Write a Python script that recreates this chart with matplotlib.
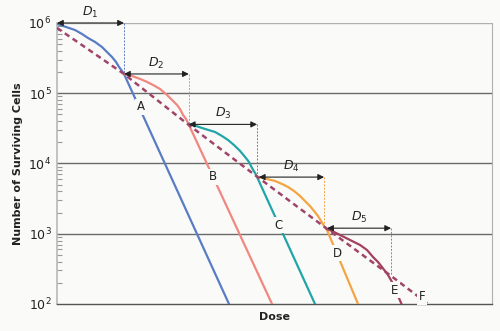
import matplotlib
matplotlib.use("Agg")
import matplotlib.pyplot as plt
from matplotlib.ticker import LogLocator, FixedLocator, NullFormatter

# ---- data (dose in arbitrary units, survival = number of cells) ----
dose_A = [0, 2.07, 4.14, 5.75, 7.13, 8.74, 10.34, 11.49, 12.64, 13.56, 14.25, 14.94, 15.40, 39.54]
surv_A = [9.68e5, 8.77e5, 7.94e5, 6.97e5, 6.11e5, 5.37e5, 4.55e5, 3.86e5, 3.28e5, 2.79e5, 2.37e5, 2.07e5, 1.88e5, 1e2]

dose_B = [15.40, 17.24, 19.08, 20.69, 22.07, 23.68, 25.29, 26.44, 27.59, 28.28, 28.97, 29.66, 30.11, 49.43]
surv_B = [1.88e5, 1.76e5, 1.60e5, 1.45e5, 1.31e5, 1.15e5, 9.44e4, 8.02e4, 6.81e4, 5.97e4, 4.90e4, 4.30e4, 3.78e4, 1e2]

dose_C = [30.34, 31.95, 34.02, 36.32, 37.93, 39.31, 40.69, 42.07, 43.22, 44.14, 44.83, 45.52, 45.98, 59.31]
surv_C = [3.65e4, 3.42e4, 3.10e4, 2.81e4, 2.46e4, 2.16e4, 1.83e4, 1.51e4, 1.24e4, 1.05e4, 8.63e3, 7.33e3, 6.43e3, 1e2]

dose_D = [46.44, 48.28, 50.11, 51.72, 53.10, 54.48, 55.86, 57.01, 58.16, 59.08, 60.00, 60.69, 61.38, 62.07, 69.20]
surv_D = [6.43e3, 6.01e3, 5.64e3, 5.11e3, 4.63e3, 4.06e3, 3.45e3, 2.92e3, 2.48e3, 2.11e3, 1.79e3, 1.52e3, 1.29e3, 1.13e3, 1e2]

dose_E = [62.07, 63.68, 65.06, 67.36, 69.66, 71.26, 72.64, 73.79, 74.71, 75.40, 76.09, 77.01, 79.20]
surv_E = [1.17e3, 1.06e3, 960, 815, 692, 587, 467, 396, 336, 295, 259, 206, 1e2]

dose_F = [0, 15.4, 30.3, 46.4, 62.1, 76.8, 85.3]
surv_F = [8.5e5, 1.88e5, 3.53e4, 6.22e3, 1.17e3, 251, 1e2]

# fractionation intervals D1..D5: (start dose, end dose, survival level)
frac_names = ["1", "2", "3", "4", "5"]
frac_start = [0, 15.4, 30.3, 46.4, 62.1]
frac_end = [15.4, 30.3, 46.0, 61.4, 76.8]
frac_level = [1e6, 1.88e5, 3.6e4, 6.4e3, 1.2e3]
frac_drop = [1.88e5, 3.77e4, 6.4e3, 1.3e3, 259]

curve_labels = ["A", "B", "C", "D", "E", "F"]
label_dose = [19.3, 35.9, 51.0, 64.4, 77.7, 83.9]
label_surv = [6.37e4, 6.43e3, 1.33e3, 5.3e2, 1.58e2, 1.26e2]

col_A = "#5a7cc4"
col_B = "#f08880"
col_C = "#22a5a8"
col_D = "#f5a443"
col_E = "#a3405c"
col_F = "#a0456a"
frac_cols = [col_A, col_B, col_C, col_D, "#888888"]
bg = "#fafbf9"

fig = plt.figure(figsize=(5.0, 3.31), dpi=100, facecolor=bg)
ax = fig.add_axes([0.114, 0.0816, 0.87, 0.849], facecolor=bg)
ax.set_yscale("log")
ax.set_xlim(0, 100)
ax.set_ylim(1e2, 1e6)

# grid lines at decades
for v in [1e5, 1e4, 1e3]:
    ax.axhline(v, color="#6a6a6a", lw=1.0, zorder=1)
ax.axhline(1e6, color="#b0b0b0", lw=1.0, zorder=1)

lw = 1.6
ax.plot(dose_A, surv_A, color=col_A, lw=lw, zorder=3)
ax.plot(dose_B, surv_B, color=col_B, lw=lw, zorder=3)
ax.plot(dose_C, surv_C, color=col_C, lw=lw, zorder=3)
ax.plot(dose_D, surv_D, color=col_D, lw=lw, zorder=3)
ax.plot(dose_E, surv_E, color=col_E, lw=lw, zorder=3)
ax.plot(dose_F, surv_F, color=col_F, lw=1.8, ls=(0, (2.2, 1.6)), zorder=4)

for name, x0, x1, lv, dr, c in zip(frac_names, frac_start, frac_end,
                                    frac_level, frac_drop, frac_cols):
    ax.annotate("", xy=(x1, lv), xytext=(x0, lv),
                arrowprops=dict(arrowstyle="<|-|>", color="#222222", lw=0.8,
                                mutation_scale=9, shrinkA=0, shrinkB=0),
                zorder=5)
    ax.plot([x1, x1], [lv, dr], color=c, lw=0.7, ls=(0, (2, 1.5)), zorder=2)
    ax.text((x0 + x1) / 2, lv * 1.12, r"$\mathit{D}_{" + name + "}$",
            ha="center", va="bottom", fontsize=9, color="#222222", zorder=6)

for lab, x, y in zip(curve_labels, label_dose, label_surv):
    ax.text(x, y, lab, ha="center", va="center", fontsize=8.5,
            color="#222222", zorder=6,
            bbox=dict(boxstyle="square,pad=0.15", fc=bg, ec="none"))

# axes styling
ax.spines["top"].set_visible(False)
ax.spines["right"].set_color("#b0b0b0")
ax.spines["left"].set_color("#b8b8b8")
ax.spines["left"].set_linewidth(1.2)
ax.spines["bottom"].set_color("#555555")
ax.spines["bottom"].set_linewidth(1.0)

ax.set_xticks([])
ax.yaxis.set_major_locator(FixedLocator([1e2, 1e3, 1e4, 1e5, 1e6]))
ax.yaxis.set_minor_locator(LogLocator(base=10, subs=range(2, 10)))
ax.yaxis.set_minor_formatter(NullFormatter())
ax.tick_params(axis="y", which="major", length=0, pad=4, labelsize=9,
               labelcolor="#222222")
ax.tick_params(axis="y", which="minor", direction="in", length=3.5,
               width=0.8, color="#9a9a9a")
ax.set_yticklabels([r"$10^2$", r"$10^3$", r"$10^4$", r"$10^5$", r"$10^6$"])

ax.set_ylabel("Number of Surviving Cells", fontsize=8, fontweight="bold",
              color="#222222", labelpad=4)
ax.set_xlabel("Dose", fontsize=8, fontweight="bold", color="#222222",
              labelpad=6)

fig.savefig("out.png", dpi=100, facecolor=bg)
